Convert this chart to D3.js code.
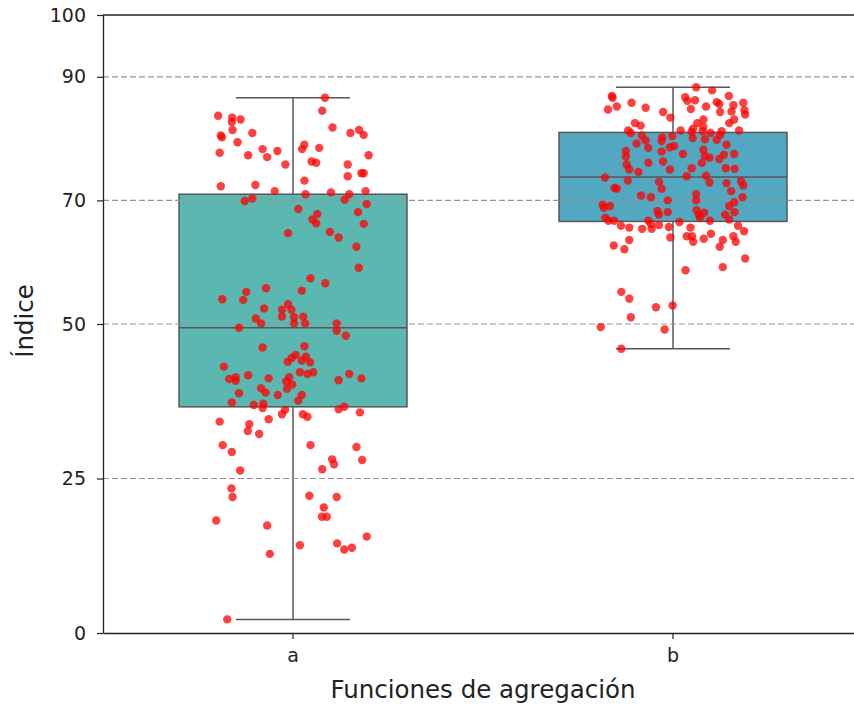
<!DOCTYPE html>
<html>
<head>
<meta charset="utf-8">
<script src="https://cdn.jsdelivr.net/npm/d3@7"></script>
<style>
  body { margin: 0; background: #fff; }
  text { font-family: "DejaVu Sans", sans-serif; }
  .tick text { font-size: 19px; }
</style>
</head>
<body>
<svg id="chart" width="854" height="705"></svg>
<script>
// Categories and tick values
const categories = ["a", "b"];
const yTicks = [0, 25, 50, 70, 90, 100];
const gridTicks = [25, 50, 70, 90];

// Box statistics per category
const q1 = [36.6, 66.6];
const median = [49.4, 73.8];
const q3 = [71.0, 81.0];
const whiskerLow = [2.2, 46.0];
const whiskerHigh = [86.6, 88.3];

// Observations for category "a" and their horizontal jitter (fraction of the band)
const valuesA = [
  86.6,84.5,83.7,83.4,82.7,83.1,81.8,81.4,80.5,80.2,
  80.9,80.9,81.4,80.6,79.4,79.0,78.3,78.5,78.3,78.0,
  77.7,77.3,77.0,77.3,75.8,76.3,76.1,75.8,73.9,74.4,
  74.4,73.2,72.3,72.5,71.5,71.0,71.3,71.0,71.5,69.9,
  70.3,70.1,69.4,68.6,68.1,67.8,66.9,66.3,66.2,64.7,
  64.9,64.0,62.5,59.1,57.4,56.6,55.4,55.2,55.8,54.0,
  53.9,52.5,53.2,52.3,52.3,50.9,51.2,51.1,51.2,50.1,
  50.1,50.1,50.1,48.9,49.4,48.1,46.2,46.4,43.1,43.9,
  44.5,45.0,44.1,44.7,43.8,42.2,41.9,42.2,41.1,41.4,
  40.8,41.7,41.2,41.4,40.7,40.2,39.5,39.6,38.9,38.5,
  38.8,38.5,37.6,37.3,41.9,40.9,41.2,36.9,37.1,36.4,
  36.1,35.4,35.4,35.0,36.2,36.6,35.7,34.6,34.2,33.8,
  32.7,32.2,30.4,29.3,30.4,30.1,28.1,27.3,28.0,26.5,
  26.3,23.4,22.0,22.2,22.0,20.3,18.8,18.8,18.2,17.4,
  15.6,14.5,13.5,13.8,14.2,12.8,2.2
];
const jitterA = [
  0.084,0.077,-0.197,-0.160,-0.161,-0.138,0.104,-0.159,-0.190,-0.187,
  -0.107,0.151,0.174,0.186,-0.146,0.030,0.024,0.069,-0.080,-0.041,
  -0.193,-0.118,-0.068,0.199,-0.020,0.049,0.061,0.144,0.144,0.180,
  0.186,0.030,-0.190,-0.099,-0.048,0.033,0.100,0.148,0.191,-0.127,
  -0.107,0.136,0.194,0.014,0.171,0.064,0.051,0.061,0.186,-0.013,
  0.097,0.120,0.167,0.173,0.046,0.085,0.023,-0.123,-0.071,-0.186,
  -0.131,-0.076,-0.013,-0.029,-0.004,-0.098,-0.029,0.003,0.027,-0.084,
  0.003,0.032,0.115,0.115,-0.142,0.139,-0.080,0.030,-0.182,-0.014,
  -0.003,0.007,0.023,0.034,0.045,0.018,0.038,0.053,-0.168,-0.151,
  -0.151,-0.118,-0.064,-0.010,-0.018,-0.002,-0.016,-0.084,-0.072,-0.040,
  -0.142,0.023,0.014,-0.161,0.148,0.120,0.180,-0.103,-0.078,-0.080,
  -0.021,-0.029,0.026,0.038,0.120,0.135,0.176,-0.064,-0.193,-0.115,
  -0.119,-0.089,-0.185,-0.161,0.046,0.167,0.103,0.108,0.182,0.077,
  -0.139,-0.162,-0.159,0.043,0.115,0.081,0.076,0.089,-0.202,-0.068,
  0.194,0.116,0.135,0.155,0.018,-0.061,-0.173
];

// Observations for category "b" and their horizontal jitter
const valuesB = [
  88.3,87.8,86.9,86.9,86.6,86.7,86.1,86.2,85.8,85.2,
  84.7,85.0,84.8,85.2,85.9,85.6,85.4,85.8,84.6,84.4,
  84.3,83.9,84.3,83.4,83.1,82.5,83.1,82.5,82.5,82.1,
  81.3,80.9,81.6,81.9,81.2,81.3,81.1,80.9,81.2,81.3,
  80.6,80.5,80.2,80.4,80.1,79.9,79.8,79.7,79.6,79.2,
  78.5,78.6,78.8,77.9,77.5,78.2,79.0,78.0,77.1,77.2,
  76.9,77.4,77.5,76.7,76.3,76.1,75.8,75.0,75.2,76.1,
  75.2,75.1,75.0,74.6,73.7,73.2,73.9,74.0,72.9,72.8,
  73.1,72.4,73.0,71.9,72.0,71.9,70.8,70.5,71.0,70.0,
  70.0,71.5,70.5,69.7,69.1,69.3,68.8,69.1,68.3,67.7,
  68.1,68.4,67.7,68.0,67.2,68.1,67.7,66.9,66.7,67.2,
  66.7,66.7,66.7,66.2,66.0,65.9,65.6,65.4,65.4,65.7,
  66.5,65.6,65.9,65.0,64.2,64.2,63.3,63.8,64.6,64.0,
  63.6,62.7,62.1,63.6,62.5,64.2,63.3,60.6,59.2,58.7,
  55.2,54.1,52.7,53.0,51.1,49.5,49.1,46.0
];
const jitterB = [
  0.061,0.103,0.147,-0.161,-0.159,0.032,0.038,0.058,-0.109,-0.148,
  -0.171,-0.072,0.047,0.087,0.115,0.122,0.159,0.185,0.188,0.154,
  0.124,0.190,-0.026,-0.007,0.080,0.064,0.161,0.148,-0.100,-0.085,
  -0.118,-0.111,0.053,0.080,0.078,0.020,0.049,0.099,0.128,0.174,
  0.124,-0.082,-0.028,-0.002,0.052,0.084,0.115,-0.072,-0.030,-0.096,
  -0.065,-0.008,0.003,-0.030,0.026,0.080,0.141,-0.124,-0.124,0.084,
  0.096,0.134,0.161,0.122,-0.026,-0.065,-0.122,-0.008,0.049,0.076,
  0.139,0.162,-0.115,-0.091,-0.179,-0.119,0.036,0.087,0.096,0.141,
  0.179,0.185,-0.037,-0.030,-0.154,-0.148,-0.084,-0.058,0.061,0.061,
  -0.014,0.153,0.183,0.161,0.148,-0.185,-0.182,-0.166,-0.041,-0.037,
  -0.014,0.062,0.068,0.082,0.071,0.162,0.137,0.148,0.097,-0.178,
  -0.170,-0.155,-0.065,-0.058,-0.037,-0.137,-0.115,-0.081,-0.056,-0.011,
  0.017,0.046,0.171,0.187,0.036,0.050,0.053,0.081,0.100,-0.007,
  -0.115,-0.156,-0.128,0.131,0.123,0.159,0.165,0.190,0.131,0.033,
  -0.136,-0.115,-0.045,-0.001,-0.111,-0.190,-0.022,-0.136
];

const boxColors = ["#5bb8b1", "#52a8c0"];
const edgeColor = "#575757";

const svg = d3.select("#chart");
const margin = { left: 103, top: 15, bottom: 633, right: 863 };

const x = d3.scaleBand().domain(categories).range([margin.left, margin.right]).padding(0);
const y = d3.scaleLinear().domain([0, 100]).range([margin.bottom, margin.top]);
const step = x.step();
const boxW = step * 0.6;
const capW = step * 0.3;

const plot = svg.append("g");

// Boxes, whiskers and medians
categories.forEach((c, i) => {
  const cx = x(c) + x.bandwidth() / 2;
  const g = plot.append("g");
  g.append("line")
    .attr("x1", cx).attr("x2", cx)
    .attr("y1", y(q1[i])).attr("y2", y(whiskerLow[i]))
    .attr("stroke", edgeColor).attr("stroke-width", 1.5);
  g.append("line")
    .attr("x1", cx).attr("x2", cx)
    .attr("y1", y(q3[i])).attr("y2", y(whiskerHigh[i]))
    .attr("stroke", edgeColor).attr("stroke-width", 1.5);
  [whiskerLow[i], whiskerHigh[i]].forEach(v => {
    g.append("line")
      .attr("x1", cx - capW / 2).attr("x2", cx + capW / 2)
      .attr("y1", y(v)).attr("y2", y(v))
      .attr("stroke", edgeColor).attr("stroke-width", 1.5);
  });
  g.append("rect")
    .attr("x", cx - boxW / 2).attr("width", boxW)
    .attr("y", y(q3[i])).attr("height", y(q1[i]) - y(q3[i]))
    .attr("fill", boxColors[i])
    .attr("stroke", edgeColor).attr("stroke-width", 1.5);
  g.append("line")
    .attr("x1", cx - boxW / 2).attr("x2", cx + boxW / 2)
    .attr("y1", y(median[i])).attr("y2", y(median[i]))
    .attr("stroke", edgeColor).attr("stroke-width", 1.5);
});

// Dashed horizontal grid
plot.append("g").selectAll("line").data(gridTicks).join("line")
  .attr("x1", margin.left).attr("x2", margin.right)
  .attr("y1", d => y(d)).attr("y2", d => y(d))
  .attr("stroke", "#959595").attr("stroke-width", 1.2)
  .attr("stroke-dasharray", "6,3");

// Jittered observations
const series = [
  { cat: "a", values: valuesA, jitter: jitterA },
  { cat: "b", values: valuesB, jitter: jitterB }
];
series.forEach(s => {
  const cx = x(s.cat) + x.bandwidth() / 2;
  plot.append("g").selectAll("circle").data(s.values).join("circle")
    .attr("cx", (d, i) => cx + s.jitter[i] * step)
    .attr("cy", d => y(d))
    .attr("r", 4.2)
    .attr("fill", "#ff0000")
    .attr("fill-opacity", 0.75);
});

// Axes
const yAxis = svg.append("g")
  .attr("transform", `translate(${margin.left},0)`)
  .call(d3.axisLeft(y).tickValues(yTicks).tickSize(6).tickSizeOuter(0).tickPadding(11));
const xAxis = svg.append("g")
  .attr("transform", `translate(0,${margin.bottom})`)
  .call(d3.axisBottom(x).tickSize(6).tickSizeOuter(0).tickPadding(10));

[yAxis, xAxis].forEach(a => {
  a.attr("font-size", 19).attr("font-family", "DejaVu Sans, sans-serif");
  a.select(".domain").attr("stroke", "#222").attr("stroke-width", 1.3);
  a.selectAll(".tick line").attr("stroke", "#222").attr("stroke-width", 1.2);
  a.selectAll(".tick text").attr("fill", "#222").style("font-size", "19px");
});

// Top spine
svg.append("line")
  .attr("x1", margin.left).attr("x2", margin.right)
  .attr("y1", margin.top).attr("y2", margin.top)
  .attr("stroke", "#222").attr("stroke-width", 1.3);

// Axis titles
svg.append("text")
  .attr("x", (margin.left + margin.right) / 2).attr("y", 698)
  .attr("text-anchor", "middle").attr("font-size", 24.5).attr("fill", "#222")
  .text("Funciones de agregación");
svg.append("text")
  .attr("transform", `translate(33,${y(50) - 3}) rotate(-90)`)
  .attr("text-anchor", "middle").attr("font-size", 24.5).attr("fill", "#222")
  .text("Índice");
</script>
</body>
</html>
